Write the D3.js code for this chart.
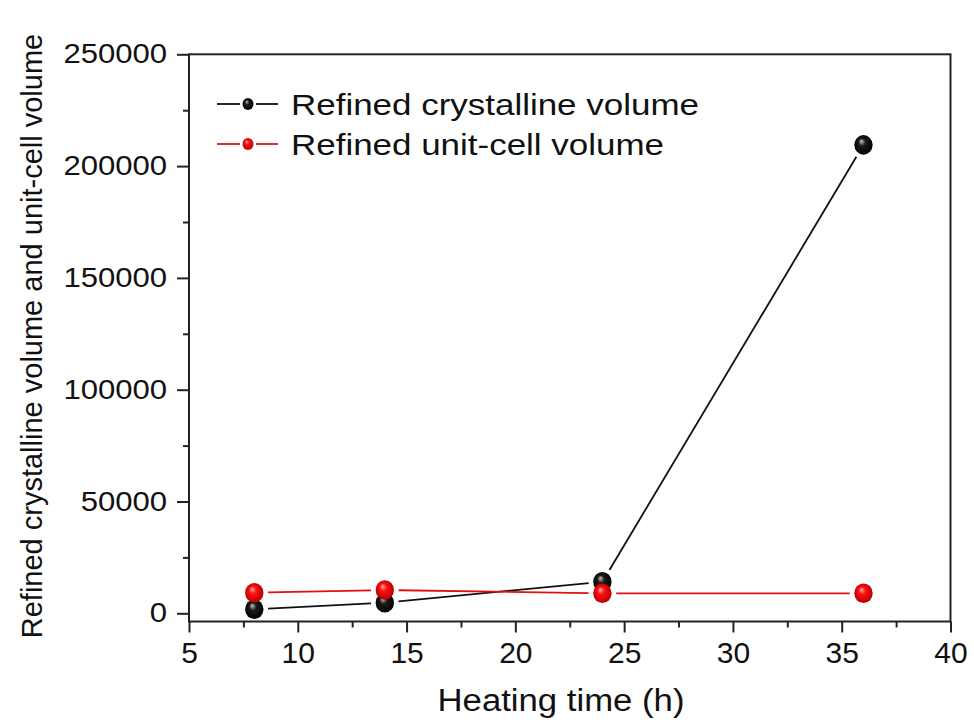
<!DOCTYPE html>
<html>
<head>
<meta charset="utf-8">
<script src="https://cdn.jsdelivr.net/npm/d3@7"></script>
<style>
  html, body { margin: 0; padding: 0; background: #fff; }
  text { font-family: "Liberation Sans", Arial, sans-serif; fill: #111; }
</style>
</head>
<body>
<svg id="chart" width="974" height="723"></svg>
<script>
// ---- data ----
const hours = [8, 14, 24, 36];
const crystallineVolume = [1800, 4700, 14100, 209500];
const unitCellVolume = [9200, 10400, 8950, 8950];
const seriesNames = ["Refined crystalline volume", "Refined unit-cell volume"];
const xTicks = [5, 10, 15, 20, 25, 30, 35, 40];
const yTicks = [0, 50000, 100000, 150000, 200000, 250000];
const xTitle = "Heating time (h)";
const yTitle = "Refined crystalline volume and unit-cell volume";

const svg = d3.select("#chart");
const L = 189, R = 950.5, T = 54.3, B = 621.5;
const x = d3.scaleLinear().domain([5, 40]).range([L, R]);
const y = d3.scaleLinear().domain([-3670, 250000]).range([B, T]);

// gradients
const defs = svg.append("defs");
function sphere(id, light, mid, dark) {
  const g = defs.append("radialGradient").attr("id", id)
    .attr("cx", "50%").attr("cy", "50%").attr("r", "55%")
    .attr("fx", "38%").attr("fy", "30%");
  g.append("stop").attr("offset", "0%").attr("stop-color", light);
  g.append("stop").attr("offset", "35%").attr("stop-color", mid);
  g.append("stop").attr("offset", "100%").attr("stop-color", dark);
}
sphere("gBlack", "#c8c8c8", "#1a1a1a", "#000");
sphere("gRed", "#ffb0b0", "#ff1010", "#b00000");

// stretch helper: widen text horizontally
function stretch(sel, k) {
  sel.each(function () {
    const w = this.getComputedTextLength();
    d3.select(this).attr("textLength", w * k).attr("lengthAdjust", "spacingAndGlyphs");
  });
}

// frame
svg.append("rect").attr("x", L).attr("y", T).attr("width", R - L).attr("height", B - T)
  .attr("fill", "none").attr("stroke", "#222").attr("stroke-width", 2);

// x axis
const xAxis = d3.axisBottom(x).tickValues(xTicks).tickSize(11).tickPadding(9).tickFormat(d3.format("d"));
const gx = svg.append("g").attr("transform", `translate(0,${B})`).call(xAxis);
gx.select(".domain").remove();
gx.selectAll(".tick line").attr("stroke", "#222").attr("stroke-width", 2);
gx.selectAll(".tick text").attr("font-size", 30).attr("font-family", "Liberation Sans, Arial").attr("fill", "#111");
const xMinor = d3.axisBottom(x).tickValues(d3.range(7.5, 40, 5)).tickSize(6).tickFormat("");
const gxm = svg.append("g").attr("transform", `translate(0,${B})`).call(xMinor);
gxm.select(".domain").remove();
gxm.selectAll(".tick line").attr("stroke", "#222").attr("stroke-width", 2);

// y axis
const yAxis = d3.axisLeft(y).tickValues(yTicks).tickSize(12).tickPadding(10).tickFormat(d3.format("d"));
const gy = svg.append("g").attr("transform", `translate(${L},0)`).call(yAxis);
gy.select(".domain").remove();
gy.selectAll(".tick line").attr("stroke", "#222").attr("stroke-width", 2);
gy.selectAll(".tick text").attr("font-size", 27).attr("font-family", "Liberation Sans, Arial").attr("fill", "#111");
stretch(gy.selectAll(".tick text"), 1.15);
const yMinor = d3.axisLeft(y).tickValues(d3.range(25000, 250000, 50000)).tickSize(6).tickFormat("");
const gym = svg.append("g").attr("transform", `translate(${L},0)`).call(yMinor);
gym.select(".domain").remove();
gym.selectAll(".tick line").attr("stroke", "#222").attr("stroke-width", 2);

// titles
svg.append("text").attr("x", 561).attr("y", 711).attr("text-anchor", "middle")
  .attr("font-size", 31).text(xTitle).call(stretch, 1.12);
svg.append("text").attr("transform", `translate(42,${336}) rotate(-90)`).attr("text-anchor", "middle")
  .attr("font-size", 29).text(yTitle);

// series
const series = [
  { name: seriesNames[0], vals: crystallineVolume, color: "#111", grad: "url(#gBlack)" },
  { name: seriesNames[1], vals: unitCellVolume, color: "#e01010", grad: "url(#gRed)" }
];
const r = 9.8, gap = 4;
series.forEach(s => {
  const pts = hours.map((h, i) => [x(h), y(s.vals[i])]);
  const segs = d3.pairs(pts).map(([a, b]) => {
    const dx = b[0] - a[0], dy = b[1] - a[1], len = Math.hypot(dx, dy);
    const ux = dx / len, uy = dy / len, o = r + gap;
    return [a[0] + ux * o, a[1] + uy * o, b[0] - ux * o, b[1] - uy * o];
  });
  svg.append("g").selectAll("line").data(segs).join("line")
    .attr("x1", d => d[0]).attr("y1", d => d[1]).attr("x2", d => d[2]).attr("y2", d => d[3])
    .attr("stroke", s.color).attr("stroke-width", 1.8);
});
series.forEach(s => {
  svg.append("g").selectAll("ellipse").data(hours).join("ellipse")
    .attr("cx", d => x(d)).attr("cy", (d, i) => y(s.vals[i]))
    .attr("rx", r - 0.6).attr("ry", r).attr("fill", s.grad);
});

// legend
const legY = [104, 144];
series.forEach((s, i) => {
  const g = svg.append("g");
  g.append("line").attr("x1", 217).attr("x2", 240).attr("y1", legY[i]).attr("y2", legY[i])
    .attr("stroke", s.color).attr("stroke-width", 1.8);
  g.append("line").attr("x1", 256).attr("x2", 278).attr("y1", legY[i]).attr("y2", legY[i])
    .attr("stroke", s.color).attr("stroke-width", 1.8);
  g.append("ellipse").attr("cx", 248).attr("cy", legY[i]).attr("rx", 5.5).attr("ry", 6).attr("fill", s.grad);
  g.append("text").attr("x", 291).attr("y", legY[i] + 11).attr("font-size", 30).text(s.name)
    .call(stretch, 1.165);
});
</script>
</body>
</html>
